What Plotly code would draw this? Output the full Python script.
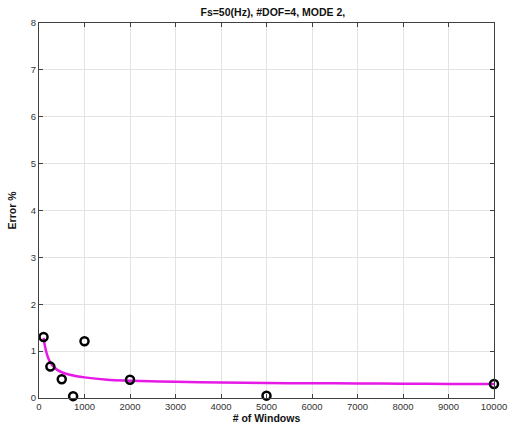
import plotly.graph_objects as go

# measured errors
windows = [100, 250, 500, 750, 1000, 2000, 5000, 10000]
error = [1.30, 0.67, 0.40, 0.04, 1.21, 0.39, 0.05, 0.30]

# fitted curve
fit_x = [100, 150, 200, 250, 300, 400, 500, 700, 1000, 1500, 2000, 3000,
         4000, 5000, 6000, 7000, 8000, 9000, 10000]
fit_y = [1.28, 1.02, 0.86, 0.76, 0.69, 0.60, 0.55, 0.49, 0.44, 0.39, 0.37,
         0.345, 0.33, 0.32, 0.315, 0.31, 0.305, 0.30, 0.30]

xticks = [0, 1000, 2000, 3000, 4000, 5000, 6000, 7000, 8000, 9000, 10000]
xlabels = ['0', '1000', '2000', '3000', '4000', '5000', '6000', '7000', '8000', '9000', '10000']
yticks = [0, 1, 2, 3, 4, 5, 6, 7, 8]
ylabels = ['0', '1', '2', '3', '4', '5', '6', '7', '8']

fig = go.Figure()
fig.add_trace(go.Scatter(x=fit_x, y=fit_y, mode='lines', line=dict(color='#e619e6', width=2.5, shape='spline'),
                         showlegend=False))
fig.add_trace(go.Scatter(x=windows, y=error, mode='markers',
                         marker=dict(symbol='circle-open', size=8, color='black', line=dict(width=2.5)),
                         showlegend=False, cliponaxis=False))

axis_style = dict(showgrid=True, gridcolor='#e3e3e3', gridwidth=1, showline=True, linecolor='#404040',
                  linewidth=1, mirror='ticks', ticks='inside', ticklen=4, tickcolor='#404040',
                  zeroline=False, automargin=False,
                  tickfont=dict(family='Liberation Sans, Arial', size=9.5, color='#333'))

fig.update_layout(
    width=510, height=425,
    margin=dict(l=39, r=16, t=23, b=27),
    paper_bgcolor='white', plot_bgcolor='white',
    title=dict(text='<b>Fs=50(Hz), #DOF=4, MODE 2,</b>', x=0.535, xanchor='center', y=0.97, yanchor='middle',
               font=dict(family='Liberation Sans, Arial', size=10.5, color='#111'), automargin=False),
    xaxis=dict(range=[0, 10000], tickvals=xticks, ticktext=xlabels,
               title=dict(text='<b># of Windows</b>', standoff=2,
                          font=dict(family='Liberation Sans, Arial', size=10.5, color='#111')), **axis_style),
    yaxis=dict(range=[0, 8], tickvals=yticks, ticktext=ylabels,
               title=dict(text='<b>Error %</b>', standoff=12,
                          font=dict(family='Liberation Sans, Arial', size=10.5, color='#111')), **axis_style),
)

# page body has a default margin, drop it so the figure fills the window
fig.write_html("out.html", config={'displayModeBar': False},
               post_script="document.body.style.margin='0';")
